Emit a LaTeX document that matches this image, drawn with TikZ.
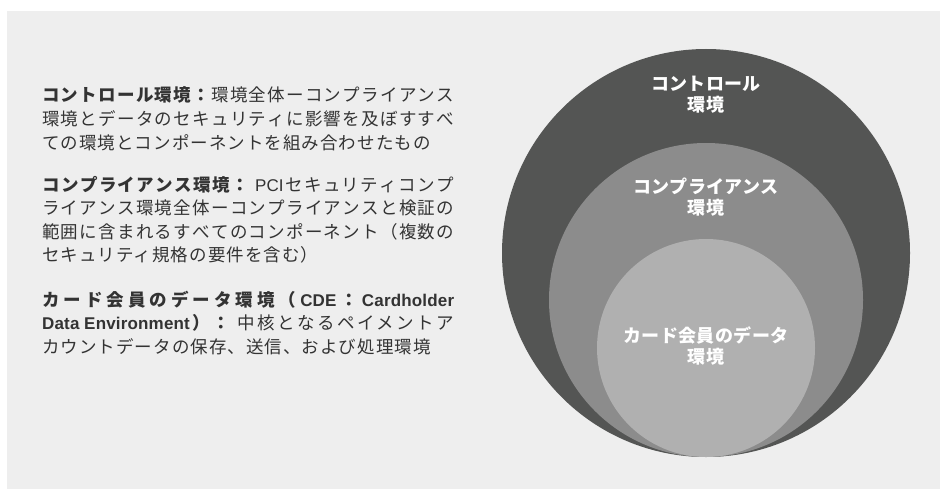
\documentclass[tikz,border=0pt]{standalone}
\usepackage{fontspec}
\setmainfont{Liberation Sans}
\newfontfamily\jp[LetterSpace=6]{Noto Sans CJK JP}
\newfontfamily\jpc[LetterSpace=2]{Noto Sans CJK JP}
\newfontfamily\lat[LetterSpace=1]{Liberation Sans}
\newcommand\latx{\lat\fontsize{17}{23.5}\selectfont}
\makeatletter
\def\sp@endmark{\sp@end}
\def\sp@bfmark{\bfseries}
\def\sp@mdmark{\mdseries}
\newcommand\spreadtext[1]{\spreadloop#1\sp@end}
\def\spreadloop#1{%
  \def\sp@tmp{#1}%
  \ifx\sp@tmp\sp@endmark \unskip
  \else\ifx\sp@tmp\sp@bfmark \bfseries
  \else\ifx\sp@tmp\sp@mdmark \mdseries
  \else {#1}\hskip 0pt plus 1pt\relax
  \fi\fi\fi
  \ifx\sp@tmp\sp@endmark\else\expandafter\spreadloop\fi}
\makeatother
\newcommand\fulline[1]{\makebox[412pt][s]{\spreadtext{#1}}}
\definecolor{bgc}{HTML}{EEEEEE}
\definecolor{outerc}{HTML}{545554}
\definecolor{midc}{HTML}{8C8C8C}
\definecolor{innerc}{HTML}{B0B0B0}
\definecolor{txt}{HTML}{333333}
\begin{document}
\begin{tikzpicture}[x=1pt,y=-1pt,
  ring/.style={circle,inner sep=0pt,draw=none},
  ringlabel/.style={align=center,text=white,inner sep=0pt,
    font=\jpc\bfseries\fontsize{18}{21}\selectfont},
  para/.style={anchor=base west,inner sep=0pt,text=txt,
    font=\jp\fontsize{17.5}{23.5}\selectfont}]
\useasboundingbox (0,0) rectangle (941,489);
\fill[white] (0,0) rectangle (941,489);
\fill[bgc] (7,11) rectangle (940,489);
% nested circles
\node[ring,fill=outerc,minimum size=408pt] (outer) at (706,253) {};
\node[ring,fill=midc,minimum size=314pt] (middle) at (706,300) {};
\node[ring,fill=innerc,minimum size=218pt] (inner) at (706,348) {};
\node[ringlabel] (lo) at (706,95) {コントロール\\環境};
\node[ringlabel] (lm) at (706,197.5) {コンプライアンス\\環境};
\node[ringlabel] (li) at (706,345.5) {カード会員のデータ\\環境};
% left text
\node[para] (p1a) at (42,102) {\fulline{\bfseries コントロール環境：\mdseries 環境全体ーコンプライアンス}};
\node[para] (p1b) at (42,125.5) {\fulline{環境とデータのセキュリティに影響を及ぼすすべ}};
\node[para] (p1c) at (42,149.5) {ての環境とコンポーネントを組み合わせたもの};
\node[para] (p2a) at (42,191.5) {\fulline{\bfseries コンプライアンス環境：\mdseries {\kern3pt}{\latx PCI}セキュリティコンプ}};
\node[para] (p2b) at (42,214.5) {\fulline{ライアンス環境全体ーコンプライアンスと検証の}};
\node[para] (p2c) at (42,238.5) {\fulline{範囲に含まれるすべてのコンポーネント（複数の}};
\node[para] (p2d) at (42,261.5) {セキュリティ規格の要件を含む）};
\node[para] (p3a) at (42,306.5) {\fulline{\bfseries カード会員のデータ環境（{\latx CDE}：{\latx Cardholder}}};
\node[para] (p3b) at (42,329.5) {\fulline{\bfseries {\latx Data\kern4.7pt Environment}）：\mdseries {\kern3pt}中核となるペイメントア}};
\node[para] (p3c) at (42,353.5) {カウントデータの保存、送信、および処理環境};
\end{tikzpicture}
\end{document}
